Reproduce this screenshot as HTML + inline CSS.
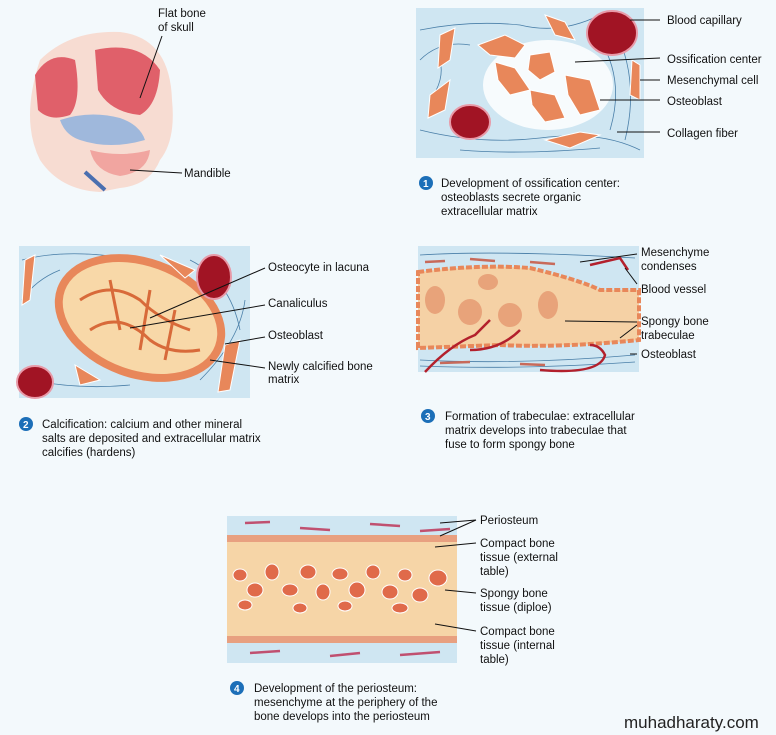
<!DOCTYPE html>
<html><head><meta charset="utf-8"><style>
html,body{margin:0;padding:0;background:#f3f9fc;}
svg{display:block}
text{font-family:"Liberation Sans",Arial,sans-serif;font-size:11.5px;fill:#111}
.l{stroke:#111;stroke-width:1;fill:none}
.f{stroke:#4a7fa8;stroke-width:.8;fill:none}
.cell{fill:#e8875a;stroke:#fff;stroke-width:1}
.rbc{fill:#a11424;stroke:#e89aa8;stroke-width:2}
.num{fill:#1c6fb8}
.nt{fill:#fff;font-weight:bold;font-size:10px}
</style></head><body>
<svg width="776" height="735" viewBox="0 0 776 735">
<rect width="776" height="735" fill="#f3f9fc"/>

<!-- Skull/face -->
<path d="M40 60 Q70 30 120 32 Q170 38 172 100 Q176 140 160 160 Q150 185 120 188 L100 192 Q60 190 40 160 Q20 120 40 60Z" fill="#f7dcd2"/>
<path d="M35 75 Q50 50 75 60 Q82 100 70 115 Q50 122 38 110Z" fill="#e0606a"/>
<path d="M95 50 Q140 40 160 70 Q158 105 140 115 Q110 112 98 90Z" fill="#e0606a"/>
<path d="M60 120 Q90 110 120 118 Q140 125 145 140 Q110 150 80 140 Q65 135 60 120Z" fill="#9fb8dc"/>
<path d="M90 150 Q120 158 150 150 Q148 172 120 176 Q95 172 90 150Z" fill="#f1a5a0"/>
<path d="M85 172 L105 190" stroke="#4a6fb0" stroke-width="4"/>
<text x="158" y="17">Flat bone</text><text x="158" y="31">of skull</text>
<line class="l" x1="162" y1="36" x2="140" y2="98"/>
<text x="184" y="177">Mandible</text>
<line class="l" x1="182" y1="173" x2="130" y2="170"/>

<!-- Panel 1 -->
<rect x="416" y="8" width="228" height="150" fill="#cfe6f2"/>
<ellipse cx="548" cy="85" rx="65" ry="45" fill="#f7fbfd"/>
<g class="f">
<path d="M420 30 Q470 20 520 25 Q560 35 600 15"/><path d="M420 60 Q440 40 470 45"/><path d="M420 130 Q480 145 540 138 Q600 130 640 150"/><path d="M600 40 Q625 80 610 130"/><path d="M615 30 Q640 80 625 140"/><path d="M430 100 Q445 80 440 60"/><path d="M460 150 Q520 155 600 148"/>
</g>
<g class="cell">
<path d="M478 45 L505 35 L525 45 L515 58 L490 55Z"/><path d="M495 62 L515 68 L530 90 L510 95 L498 80Z"/><path d="M530 55 L550 52 L555 72 L540 80 L528 70Z"/><path d="M565 75 L590 80 L600 110 L580 115 L568 95Z"/><path d="M530 90 L555 95 L565 118 L545 122 L532 105Z"/><path d="M440 35 L455 28 L450 60 L438 68Z"/><path d="M430 95 L450 80 L445 110 L428 118Z"/><path d="M545 15 L565 22 L575 40 L555 35Z"/><path d="M545 140 L580 132 L600 135 L570 148Z"/><path d="M632 60 L640 65 L640 100 L630 95Z"/>
</g>
<ellipse class="rbc" cx="612" cy="33" rx="25" ry="22"/>
<ellipse class="rbc" cx="470" cy="122" rx="20" ry="17"/>
<text x="667" y="24">Blood capillary</text>
<text x="667" y="63">Ossification center</text>
<text x="667" y="84">Mesenchymal cell</text>
<text x="667" y="105">Osteoblast</text>
<text x="667" y="137">Collagen fiber</text>
<line class="l" x1="630" y1="20" x2="660" y2="20"/>
<line class="l" x1="575" y1="62" x2="660" y2="58"/>
<line class="l" x1="640" y1="80" x2="660" y2="80"/>
<line class="l" x1="600" y1="100" x2="660" y2="100"/>
<line class="l" x1="617" y1="132" x2="660" y2="132"/>
<circle class="num" cx="426" cy="183" r="7"/><text class="nt" x="423" y="187">1</text>
<text x="441" y="187">Development of ossification center:</text>
<text x="441" y="201">osteoblasts secrete organic</text>
<text x="441" y="215">extracellular matrix</text>

<!-- Panel 2 -->
<rect x="19" y="246" width="231" height="152" fill="#cfe6f2"/>
<g class="f"><path d="M22 260 Q60 250 110 256"/><path d="M22 300 Q35 280 60 270"/><path d="M30 380 Q80 390 130 385"/><path d="M200 380 Q240 340 245 300"/><path d="M190 260 Q230 280 240 330"/></g>
<ellipse cx="140" cy="318" rx="88" ry="60" transform="rotate(20 140 318)" fill="#e8875a"/>
<ellipse cx="140" cy="318" rx="80" ry="52" transform="rotate(20 140 318)" fill="#f8d8a8"/>
<g stroke="#d86a3a" stroke-width="3" fill="none"><path d="M80 300 Q110 280 140 300 Q160 320 190 330"/><path d="M90 330 Q120 310 150 340 Q170 355 200 350"/><path d="M110 280 L120 330 M150 290 L140 350 M175 310 L165 360"/></g>
<g class="cell"><path d="M25 260 L35 255 L30 300 L22 305Z"/><path d="M160 255 L195 270 L185 278Z"/><path d="M225 345 L240 340 L230 390 L218 392Z"/><path d="M75 365 L100 380 L80 385Z"/></g>
<ellipse class="rbc" cx="214" cy="277" rx="17" ry="22"/>
<ellipse class="rbc" cx="35" cy="382" rx="18" ry="16"/>
<text x="268" y="271">Osteocyte in lacuna</text>
<text x="268" y="307">Canaliculus</text>
<text x="268" y="339">Osteoblast</text>
<text x="268" y="370">Newly calcified bone</text><text x="268" y="383">matrix</text>
<line class="l" x1="265" y1="268" x2="150" y2="318"/>
<line class="l" x1="265" y1="305" x2="130" y2="328"/>
<line class="l" x1="265" y1="337" x2="225" y2="344"/>
<line class="l" x1="265" y1="368" x2="210" y2="360"/>
<circle class="num" cx="26" cy="424" r="7"/><text class="nt" x="23" y="428">2</text>
<text x="42" y="428">Calcification: calcium and other mineral</text>
<text x="42" y="442">salts are deposited and extracellular matrix</text>
<text x="42" y="456">calcifies (hardens)</text>

<!-- Panel 3 -->
<rect x="418" y="246" width="221" height="126" fill="#cfe6f2"/>
<g class="f"><path d="M420 255 Q500 250 635 258"/><path d="M420 360 Q520 365 635 355"/><path d="M420 366 Q520 370 635 362"/></g>
<g stroke="#c86a5a" stroke-width="2.5"><line x1="425" y1="262" x2="445" y2="261"/><line x1="470" y1="259" x2="495" y2="261"/><line x1="530" y1="262" x2="555" y2="264"/><line x1="440" y1="363" x2="470" y2="362"/><line x1="520" y1="364" x2="545" y2="365"/></g>
<path d="M418 272 Q480 264 530 268 Q580 280 600 290 L639 290 L639 340 Q560 348 500 345 L418 348Z" fill="#f5d1a5" stroke="#e8875a" stroke-width="4" stroke-dasharray="6 2"/>
<g fill="#e8a37a"><ellipse cx="435" cy="300" rx="10" ry="14"/><ellipse cx="470" cy="312" rx="12" ry="13"/><ellipse cx="510" cy="315" rx="12" ry="12"/><ellipse cx="548" cy="305" rx="10" ry="14"/><ellipse cx="488" cy="282" rx="10" ry="8"/></g>
<g stroke="#b3202c" stroke-width="2.5" fill="none"><path d="M425 372 Q450 345 475 335 L490 320 M470 350 Q500 350 520 330 M540 370 Q600 375 605 355 Q600 345 590 345 M590 265 L620 258 L628 270"/></g>
<text x="641" y="256">Mesenchyme</text><text x="641" y="270">condenses</text>
<text x="641" y="293">Blood vessel</text>
<text x="641" y="325">Spongy bone</text><text x="641" y="339">trabeculae</text>
<text x="641" y="358">Osteoblast</text>
<line class="l" x1="580" y1="262" x2="637" y2="254"/>
<line class="l" x1="625" y1="268" x2="637" y2="284"/>
<line class="l" x1="565" y1="321" x2="637" y2="322"/>
<line class="l" x1="620" y1="338" x2="637" y2="325"/>
<line class="l" x1="630" y1="354" x2="637" y2="354"/>
<circle class="num" cx="428" cy="416" r="7"/><text class="nt" x="425" y="420">3</text>
<text x="445" y="420">Formation of trabeculae: extracellular</text>
<text x="445" y="434">matrix develops into trabeculae that</text>
<text x="445" y="448">fuse to form spongy bone</text>

<!-- Panel 4 -->
<rect x="227" y="516" width="230" height="147" fill="#cfe6f2"/>
<g stroke="#c05070" stroke-width="2.5"><line x1="245" y1="523" x2="270" y2="522"/><line x1="300" y1="528" x2="330" y2="530"/><line x1="370" y1="524" x2="400" y2="526"/><line x1="250" y1="653" x2="280" y2="651"/><line x1="330" y1="656" x2="360" y2="653"/><line x1="400" y1="655" x2="440" y2="652"/><line x1="420" y1="531" x2="450" y2="529"/></g>
<rect x="227" y="535" width="230" height="7" fill="#e8a080"/>
<rect x="227" y="636" width="230" height="7" fill="#e8a080"/>
<rect x="227" y="542" width="230" height="94" fill="#f6d5a7"/>
<g fill="#e06a4a" stroke="#fff" stroke-width="1">
<ellipse cx="240" cy="575" rx="7" ry="6"/><ellipse cx="255" cy="590" rx="8" ry="7"/><ellipse cx="272" cy="572" rx="7" ry="8"/><ellipse cx="290" cy="590" rx="8" ry="6"/><ellipse cx="308" cy="572" rx="8" ry="7"/><ellipse cx="323" cy="592" rx="7" ry="8"/><ellipse cx="340" cy="574" rx="8" ry="6"/><ellipse cx="357" cy="590" rx="8" ry="8"/><ellipse cx="373" cy="572" rx="7" ry="7"/><ellipse cx="390" cy="592" rx="8" ry="7"/><ellipse cx="405" cy="575" rx="7" ry="6"/><ellipse cx="420" cy="595" rx="8" ry="7"/><ellipse cx="438" cy="578" rx="9" ry="8"/><ellipse cx="245" cy="605" rx="7" ry="5"/><ellipse cx="300" cy="608" rx="7" ry="5"/><ellipse cx="345" cy="606" rx="7" ry="5"/><ellipse cx="400" cy="608" rx="8" ry="5"/>
</g>
<text x="480" y="524">Periosteum</text>
<text x="480" y="547">Compact bone</text><text x="480" y="561">tissue (external</text><text x="480" y="575">table)</text>
<text x="480" y="597">Spongy bone</text><text x="480" y="611">tissue (diploe)</text>
<text x="480" y="635">Compact bone</text><text x="480" y="649">tissue (internal</text><text x="480" y="663">table)</text>
<line class="l" x1="440" y1="523" x2="476" y2="520"/><line class="l" x1="440" y1="536" x2="476" y2="520"/>
<line class="l" x1="435" y1="547" x2="476" y2="543"/>
<line class="l" x1="445" y1="590" x2="476" y2="593"/>
<line class="l" x1="435" y1="624" x2="476" y2="631"/>
<circle class="num" cx="237" cy="688" r="7"/><text class="nt" x="234" y="692">4</text>
<text x="254" y="692">Development of the periosteum:</text>
<text x="254" y="706">mesenchyme at the periphery of the</text>
<text x="254" y="720">bone develops into the periosteum</text>

<text x="624" y="728" style="font-size:17px;fill:#222">muhadharaty.com</text>
</svg>
</body></html>
